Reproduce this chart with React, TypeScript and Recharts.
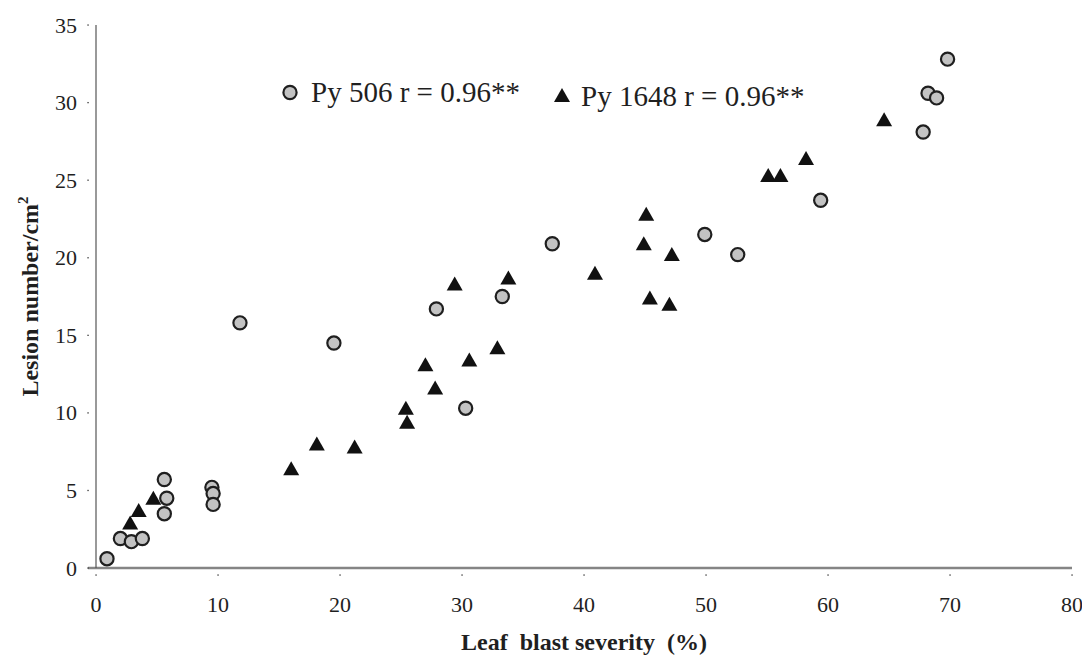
import { ScatterChart, Scatter, XAxis, YAxis, ReferenceLine, Legend } from 'recharts'

// Py 506 (grey circles)
const py506X = [0.9, 2.0, 2.9, 3.8, 5.6, 5.8, 5.6, 9.5, 9.6, 9.6, 11.8, 19.5, 27.9, 33.3, 30.3, 37.4, 49.9, 52.6, 59.4, 67.8, 68.2, 68.9, 69.8]
const py506Y = [0.6, 1.9, 1.7, 1.9, 5.7, 4.5, 3.5, 5.2, 4.8, 4.1, 15.8, 14.5, 16.7, 17.5, 10.3, 20.9, 21.5, 20.2, 23.7, 28.1, 30.6, 30.3, 32.8]

// Py 1648 (black triangles)
const py1648X = [2.8, 3.5, 4.7, 16.0, 18.1, 21.2, 25.4, 25.5, 27.0, 27.8, 29.4, 30.6, 32.9, 33.8, 40.9, 44.9, 45.1, 47.2, 45.4, 47.0, 55.1, 56.1, 58.2, 64.6]
const py1648Y = [2.9, 3.7, 4.5, 6.4, 8.0, 7.8, 10.3, 9.4, 13.1, 11.6, 18.3, 13.4, 14.2, 18.7, 19.0, 20.9, 22.8, 20.2, 17.4, 17.0, 25.3, 25.3, 26.4, 28.9]

const xTicks = [0, 10, 20, 30, 40, 50, 60, 70, 80]
const yTicks = [0, 5, 10, 15, 20, 25, 30, 35]

const legendLabels = ['Py 506 r = 0.96**', 'Py 1648 r = 0.96**']

const py506 = py506X.map((x, i) => ({ x, y: py506Y[i] }))
const py1648 = py1648X.map((x, i) => ({ x, y: py1648Y[i] }))

const font = "'Liberation Serif', 'Times New Roman', serif"
const ink = '#1f1f1f'

const CircleMark = (p: any) => (
  <circle cx={p.cx} cy={p.cy} r={6.6} fill="#c3c3c3" stroke={ink} strokeWidth={2.2} />
)

const TriangleMark = (p: any) => (
  <polygon
    points={`${p.cx},${p.cy - 7.5} ${p.cx - 8},${p.cy + 6.5} ${p.cx + 8},${p.cy + 6.5}`}
    fill="#111"
  />
)

const XTick = (p: any) => (
  <g>
    <rect x={p.x - 0.6} y={p.y - 0.6} width={1.3} height={1.3} fill="#333" />
    <text x={p.x} y={p.y + 37} textAnchor="middle" fontFamily={font} fontSize={22} fill={ink}>
      {p.payload.value}
    </text>
  </g>
)

const YTick = (p: any) => (
  <g>
    <rect x={p.x - 0.6} y={p.y - 0.6} width={1.3} height={1.3} fill="#333" />
    <text x={p.x - 11} y={p.y + 7.5} textAnchor="end" fontFamily={font} fontSize={22} fill={ink}>
      {p.payload.value}
    </text>
  </g>
)

const LegendBox = () => (
  <svg width={1082} height={120} style={{ display: 'block' }}>
    <circle cx={290} cy={92.5} r={6.6} fill="#c3c3c3" stroke={ink} strokeWidth={2.2} />
    <text x={311} y={102} fontFamily={font} fontSize={29} fill={ink}>{legendLabels[0]}</text>
    <polygon points="562,88 554,102 570,102" fill="#111" />
    <text x={581} y={106} fontFamily={font} fontSize={29} fill={ink}>{legendLabels[1]}</text>
  </svg>
)

export default function App() {
  return (
    <div style={{ position: 'absolute', left: 0, top: 0, background: '#fff' }}>
      <ScatterChart width={1082} height={659} margin={{ top: 25, right: 10, left: 0, bottom: 0 }}>
        <XAxis
          type="number"
          dataKey="x"
          domain={[0, 80]}
          ticks={xTicks}
          axisLine={false}
          tickLine={false}
          tickSize={7}
          tickMargin={0}
          tick={<XTick />}
          height={91}
          label={(props: any) => {
            const vb = props.viewBox
            return (
              <text
                x={vb.x + vb.width / 2}
                y={vb.y + 82}
                textAnchor="middle"
                fontFamily={font}
                fontSize={24}
                fontWeight="bold"
                fill={ink}
                style={{ whiteSpace: 'pre' }}
              >
                {'Leaf  blast severity  (%)'}
              </text>
            )
          }}
        />
        <YAxis
          type="number"
          dataKey="y"
          domain={[0, 35]}
          ticks={yTicks}
          width={96}
          axisLine={{ stroke: '#555', strokeWidth: 1.2 }}
          tickLine={false}
          tickSize={8}
          tickMargin={0}
          tick={<YTick />}
          label={(props: any) => {
            const vb = props.viewBox
            const cx = vb.x + 38
            const cy = vb.y + vb.height / 2
            return (
              <text
                x={cx}
                y={cy}
                transform={`rotate(-90 ${cx} ${cy})`}
                textAnchor="middle"
                fontFamily={font}
                fontSize={24}
                fontWeight="bold"
                fill={ink}
              >
                Lesion number/cm
                <tspan fontSize={15} dy={-10}>2</tspan>
              </text>
            )
          }}
        />
        <ReferenceLine
          segment={[{ x: -0.66, y: 0 }, { x: 80, y: 0 }]}
          stroke="#858585"
          strokeWidth={2.5}
          ifOverflow="visible"
        />
        <Legend
          layout="horizontal"
          verticalAlign="middle"
          align="center"
          content={<LegendBox />}
          wrapperStyle={{ position: 'absolute', left: 0, top: 0, width: 1082 }}
        />
        <Scatter name="Py 506" data={py506} shape={CircleMark} isAnimationActive={false} />
        <Scatter name="Py 1648" data={py1648} shape={TriangleMark} isAnimationActive={false} />
      </ScatterChart>
    </div>
  )
}
